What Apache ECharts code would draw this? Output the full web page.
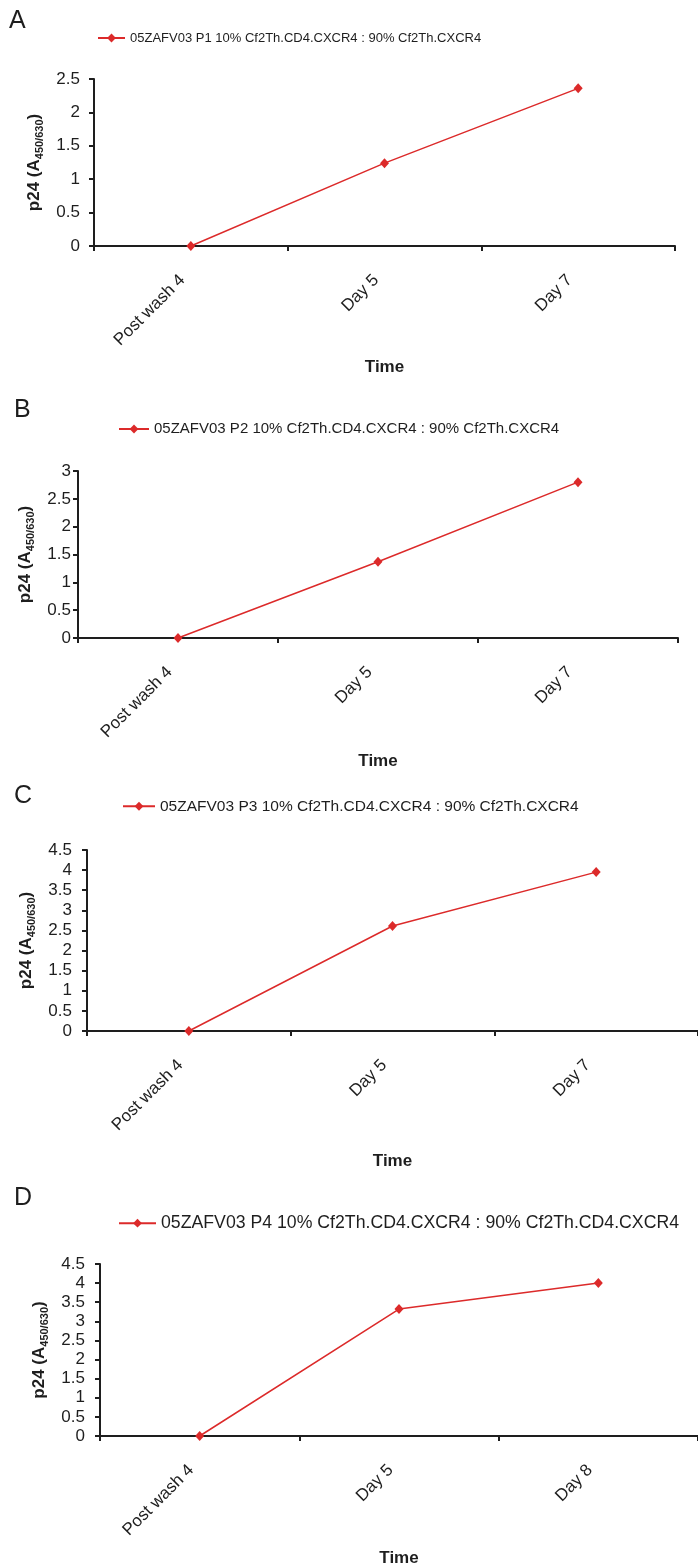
<!DOCTYPE html>
<html><head><meta charset="utf-8">
<script src="https://cdn.jsdelivr.net/npm/echarts@6/dist/echarts.min.js"></script>
<style>html,body{margin:0;padding:0;background:#fff}#c{width:698px;height:1568px}</style>
</head><body><div id="c"></div>
<script>
// ---- data ----
const panelLetters = ['A', 'B', 'C', 'D'];
const seriesNames = [
  '05ZAFV03 P1 10% Cf2Th.CD4.CXCR4 : 90% Cf2Th.CXCR4',
  '05ZAFV03 P2 10% Cf2Th.CD4.CXCR4 : 90% Cf2Th.CXCR4',
  '05ZAFV03 P3 10% Cf2Th.CD4.CXCR4 : 90% Cf2Th.CXCR4',
  '05ZAFV03 P4 10% Cf2Th.CD4.CXCR4 : 90% Cf2Th.CD4.CXCR4'
];
const categoriesA = ['Post wash 4', 'Day 5', 'Day 7'];
const categoriesB = ['Post wash 4', 'Day 5', 'Day 7'];
const categoriesC = ['Post wash 4', 'Day 5', 'Day 7'];
const categoriesD = ['Post wash 4', 'Day 5', 'Day 8'];
const valuesA = [0, 1.24, 2.36];
const valuesB = [0, 1.37, 2.80];
const valuesC = [0, 2.61, 3.95];
const valuesD = [0, 3.32, 4.00];
const yMaxes = [2.5, 3, 4.5, 4.5];
const yInterval = 0.5;
const xAxisTitle = 'Time';
const yAxisTitle = '{b|p24 (A}{s|450/630}{b|)}';

// ---- layout ----
const categories = [categoriesA, categoriesB, categoriesC, categoriesD];
const values = [valuesA, valuesB, valuesC, valuesD];
const grids = [
  {left: 94, top: 79, width: 581, height: 167},
  {left: 78, top: 471, width: 600, height: 167},
  {left: 87, top: 850, width: 612, height: 181},
  {left: 100, top: 1264, width: 600, height: 172}
];
const letterPos = [{left: 9, top: 9}, {left: 14, top: 398}, {left: 14, top: 784}, {left: 14, top: 1186}];
const legendPos = [
  {left: 97, cy: 39, fs: 13, iw: 27},
  {left: 118, cy: 430, fs: 15, iw: 30},
  {left: 122, cy: 807, fs: 15.5, iw: 32},
  {left: 118, cy: 1224, fs: 17.7, iw: 37}
];
const yNameGap = [42, 42, 40, 41];
const yLabelMargin = [14, 7, 15, 15];
const xNameGap = [113, 115, 122, 114];

const RED = '#dc2a2a';
const INK = '#1e1e1e';
const FONT = '"Liberation Sans", Arial, Helvetica, sans-serif';

const option = {
  backgroundColor: '#fff',
  animation: false,
  textStyle: {fontFamily: FONT, color: INK},
  title: panelLetters.map((t, i) => ({
    text: t, left: letterPos[i].left, top: letterPos[i].top, padding: 0,
    textStyle: {fontFamily: FONT, fontSize: 25, fontWeight: 'normal', color: INK}
  })),
  legend: seriesNames.map((n, i) => ({
    data: [n], left: legendPos[i].left, top: legendPos[i].cy - legendPos[i].fs / 2 - 1,
    padding: 0, itemWidth: legendPos[i].iw, itemHeight: 11, itemGap: 4,
    lineStyle: {width: 2},
    textStyle: {fontFamily: FONT, fontSize: legendPos[i].fs, color: INK}
  })),
  grid: grids.map(g => Object.assign({containLabel: false}, g)),
  xAxis: categories.map((c, i) => ({
    type: 'category', gridIndex: i, data: c, boundaryGap: true,
    name: xAxisTitle, nameLocation: 'middle', nameGap: xNameGap[i],
    nameTextStyle: {fontFamily: FONT, fontSize: 17, fontWeight: 'bold', color: INK},
    axisLine: {lineStyle: {color: INK, width: 2}},
    axisTick: {show: true, alignWithLabel: false, length: 5, lineStyle: {color: INK, width: 2}},
    axisLabel: {rotate: 45, interval: 0, margin: 23, padding: [0, 12, 0, 0], fontFamily: FONT, fontSize: 17, color: INK},
    splitLine: {show: false}
  })),
  yAxis: yMaxes.map((m, i) => ({
    type: 'value', gridIndex: i, min: 0, max: m, interval: yInterval,
    name: yAxisTitle, nameLocation: 'middle', nameGap: yNameGap[i], nameRotate: 90,
    nameTextStyle: {
      rich: {
        b: {fontFamily: FONT, fontSize: 17, fontWeight: 'bold', color: INK, lineHeight: 22, verticalAlign: 'middle'},
        s: {fontFamily: FONT, fontSize: 11, fontWeight: 'bold', color: INK, lineHeight: 22, verticalAlign: 'bottom'}
      }
    },
    axisLine: {show: true, lineStyle: {color: INK, width: 2}},
    axisTick: {show: true, length: 5, lineStyle: {color: INK, width: 2}},
    axisLabel: {margin: yLabelMargin[i], fontFamily: FONT, fontSize: 17, color: INK},
    splitLine: {show: false}
  })),
  series: values.map((v, i) => ({
    name: seriesNames[i], type: 'line', xAxisIndex: i, yAxisIndex: i, data: v,
    symbol: 'diamond', symbolSize: [9, 10],
    lineStyle: {color: RED, width: 1.5}, itemStyle: {color: RED}
  }))
};
const chart = echarts.init(document.getElementById('c'), null, {renderer: 'canvas'});
chart.setOption(option);
</script></body></html>
